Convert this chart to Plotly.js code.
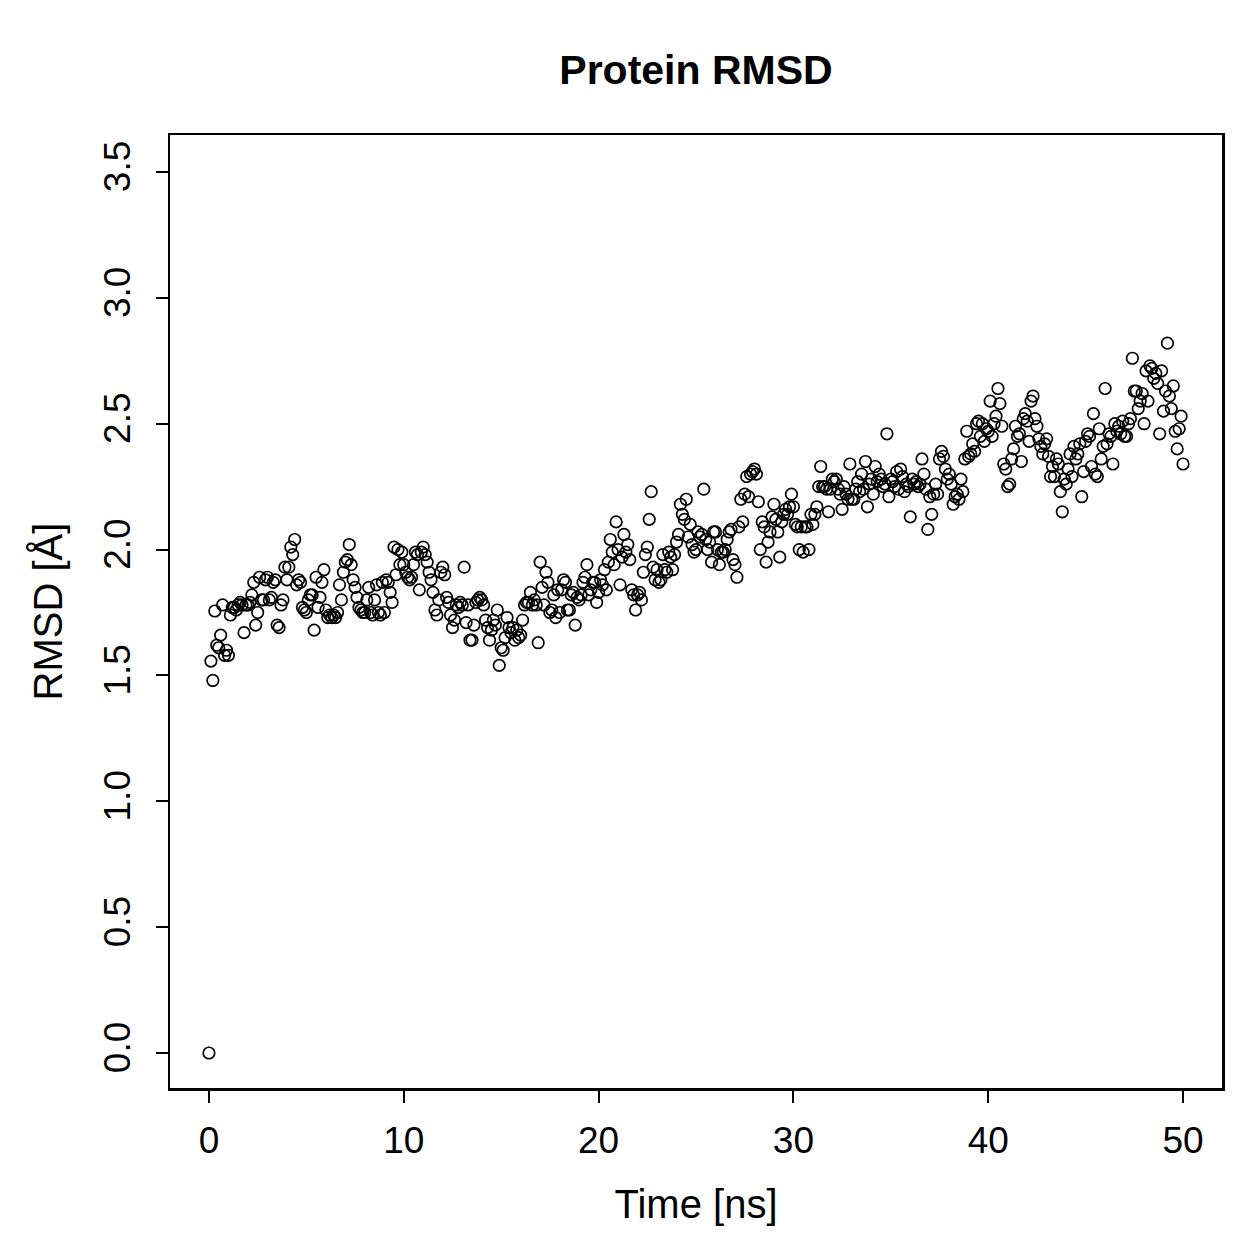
<!DOCTYPE html>
<html>
<head>
<meta charset="utf-8">
<script src="https://cdn.plot.ly/plotly-3.0.1.min.js"></script>
<style>html,body{margin:0;padding:0;background:#fff;}#chart{width:1259px;height:1259px;}</style>
</head>
<body>
<div id="chart"></div>
<script>
// Time step of the trajectory (ns) and RMSD values (Å), one per frame
const timeStepNs = 0.1;
const rmsd = [
  0.00, 1.557, 1.48, 1.756, 1.62, 1.61, 1.66, 1.78, 1.58, 1.60,
  1.58, 1.74, 1.77, 1.77, 1.76, 1.78, 1.79, 1.78, 1.67, 1.78,
  1.78, 1.79, 1.82, 1.87, 1.70, 1.75, 1.89, 1.80, 1.80, 1.88,
  1.89, 1.80, 1.81, 1.87, 1.88, 1.70, 1.69, 1.78, 1.80, 1.93,
  1.88, 1.93, 2.01, 1.98, 2.04, 1.86, 1.88, 1.87, 1.77, 1.76,
  1.75, 1.80, 1.82, 1.82, 1.68, 1.89, 1.77, 1.81, 1.87, 1.92,
  1.76, 1.73, 1.74, 1.73, 1.74, 1.73, 1.75, 1.86, 1.80, 1.91,
  1.95, 1.96, 2.02, 1.94, 1.88, 1.85, 1.81, 1.77, 1.76, 1.75,
  1.75, 1.80, 1.85, 1.75, 1.74, 1.80, 1.86, 1.75, 1.74, 1.87,
  1.75, 1.88, 1.87, 1.83, 1.79, 2.01, 1.90, 2.00, 1.94, 1.99,
  1.94, 1.91, 1.89, 1.88, 1.89, 1.94, 1.99, 1.98, 1.84, 1.99,
  2.01, 1.98, 1.95, 1.91, 1.88, 1.83, 1.76, 1.74, 1.80, 1.91,
  1.93, 1.90, 1.81, 1.79, 1.74, 1.69, 1.72, 1.78, 1.77, 1.79,
  1.78, 1.93, 1.71, 1.78, 1.64, 1.64, 1.70, 1.79, 1.80, 1.81,
  1.80, 1.78, 1.72, 1.69, 1.64, 1.68, 1.72, 1.70, 1.76, 1.54,
  1.61, 1.60, 1.65, 1.73, 1.69, 1.67, 1.69, 1.64, 1.68, 1.65,
  1.66, 1.72, 1.78, 1.79, 1.79, 1.83, 1.78, 1.80, 1.78, 1.63,
  1.95, 1.85, 1.78, 1.91, 1.87, 1.75, 1.76, 1.82, 1.73, 1.84,
  1.75, 1.84, 1.88, 1.87, 1.76, 1.76, 1.82, 1.83, 1.70, 1.81,
  1.80, 1.82, 1.87, 1.89, 1.94, 1.82, 1.84, 1.87, 1.87, 1.79,
  1.83, 1.88, 1.86, 1.92, 1.84, 1.95, 2.04, 1.99, 1.94, 2.11,
  2.00, 1.86, 1.97, 2.06, 1.99, 2.02, 1.96, 1.84, 1.82, 1.76,
  1.82, 1.83, 1.80, 1.91, 1.98, 2.01, 2.12, 2.23, 1.93, 1.88,
  1.92, 1.87, 1.88, 1.98, 1.92, 1.91, 1.99, 1.97, 1.92, 1.98,
  2.03, 2.06, 2.18, 2.14, 2.12, 2.20, 2.05, 2.10, 2.02, 1.99,
  2.00, 2.07, 2.05, 2.06, 2.24, 2.04, 2.00, 2.03, 1.95, 2.07,
  2.07, 2.00, 1.94, 1.99, 1.99, 2.00, 2.04, 2.07, 2.08, 1.96,
  1.94, 1.89, 2.09, 2.20, 2.11, 2.22, 2.29, 2.21, 2.30, 2.31,
  2.32, 2.30, 2.19, 2.00, 2.11, 2.09, 1.95, 2.03, 2.07, 2.13,
  2.18, 2.12, 2.07, 1.97, 2.11, 2.14, 2.16, 2.14, 2.17, 2.22,
  2.17, 2.10, 2.09, 2.00, 2.09, 1.99, 2.09, 2.09, 2.00, 2.14,
  2.10, 2.14, 2.17, 2.25, 2.33, 2.25, 2.25, 2.24, 2.15, 2.24,
  2.28, 2.27, 2.28, 2.24, 2.22, 2.16, 2.25, 2.22, 2.20, 2.34,
  2.20, 2.20, 2.24, 2.27, 2.23, 2.30, 2.24, 2.35, 2.17, 2.26,
  2.28, 2.22, 2.33, 2.27, 2.30, 2.28, 2.25, 2.26, 2.46, 2.21,
  2.28, 2.27, 2.25, 2.31, 2.24, 2.32, 2.29, 2.23, 2.26, 2.25,
  2.13, 2.28, 2.26, 2.27, 2.25, 2.26, 2.36, 2.30, 2.24, 2.08,
  2.21, 2.14, 2.22, 2.26, 2.22, 2.36, 2.39, 2.37, 2.32, 2.28,
  2.30, 2.26, 2.18, 2.21, 2.22, 2.20, 2.28, 2.23, 2.36, 2.47,
  2.37, 2.38, 2.42, 2.39, 2.50, 2.51, 2.45, 2.50, 2.43, 2.48,
  2.47, 2.59, 2.45, 2.50, 2.53, 2.64, 2.58, 2.49, 2.34, 2.32,
  2.25, 2.26, 2.36, 2.40, 2.49, 2.45, 2.46, 2.35, 2.52, 2.54,
  2.51, 2.43, 2.59, 2.61, 2.52, 2.49, 2.44, 2.41, 2.38, 2.42,
  2.44, 2.37, 2.29, 2.33, 2.29, 2.36, 2.34, 2.23, 2.15, 2.28,
  2.26, 2.32, 2.38, 2.29, 2.41, 2.36, 2.38, 2.42, 2.21, 2.31,
  2.43, 2.46, 2.45, 2.33, 2.54, 2.30, 2.29, 2.48, 2.36, 2.41,
  2.64, 2.42, 2.46, 2.45, 2.34, 2.50, 2.47, 2.49, 2.46, 2.51,
  2.45, 2.45, 2.50, 2.52, 2.76, 2.63, 2.63, 2.56, 2.59, 2.62,
  2.50, 2.71, 2.59, 2.73, 2.72, 2.68, 2.70, 2.66, 2.46, 2.71,
  2.55, 2.63, 2.82, 2.61, 2.56, 2.65, 2.47, 2.40, 2.48, 2.53,
  2.34
];
const xTickVals = [0, 10, 20, 30, 40, 50];
const yTickVals = [0, 0.5, 1, 1.5, 2, 2.5, 3, 3.5];

const timeNs = rmsd.map((_, i) => Math.round(i * timeStepNs * 10) / 10);

const regular = "Liberation Sans, Arial, sans-serif";

Plotly.newPlot('chart', [{
  x: timeNs,
  y: rmsd,
  type: 'scatter',
  mode: 'markers',
  marker: {symbol: 'circle-open', size: 11.5, color: '#000', line: {color: '#000', width: 1.7}},
  hoverinfo: 'x+y'
}], {
  width: 1259, height: 1259,
  paper_bgcolor: '#fff', plot_bgcolor: '#fff',
  margin: {l: 170, r: 37, t: 135, b: 171, pad: 0},
  showlegend: false,
  font: {family: regular, size: 37, color: '#000'},
  title: {text: '<b>Protein RMSD</b>', x: 0.5, xref: 'paper', xanchor: 'center',
          y: 1 - 70/1259, yref: 'container', yanchor: 'middle',
          font: {family: regular, size: 41, color: '#000'}},
  xaxis: {
    range: [-2, 52], tickvals: xTickVals, ticktext: xTickVals.map(String),
    ticks: 'outside', ticklen: 12, tickwidth: 2, tickcolor: '#000',
    showline: true, linecolor: '#000', linewidth: 2.5, mirror: true,
    showgrid: false, zeroline: false, ticklabelstandoff: 6,
    tickfont: {family: regular, size: 37, color: '#000'},
    title: {text: 'Time [ns]', standoff: 30, font: {family: regular, size: 40, color: '#000'}},
    automargin: false
  },
  yaxis: {
    range: [-0.139, 3.647], tickvals: yTickVals, tickformat: '.1f',
    ticks: 'outside', ticklen: 12, tickwidth: 2, tickcolor: '#000',
    showline: true, linecolor: '#000', linewidth: 2.5, mirror: true,
    showgrid: false, zeroline: false, tickangle: -90, ticklabelstandoff: 11,
    tickfont: {family: regular, size: 37, color: '#000'},
    title: {text: 'RMSD [Å]', standoff: 22, font: {family: regular, size: 40, color: '#000'}},
    automargin: false
  }
}, {displayModeBar: false, staticPlot: true});
</script>
</body>
</html>
